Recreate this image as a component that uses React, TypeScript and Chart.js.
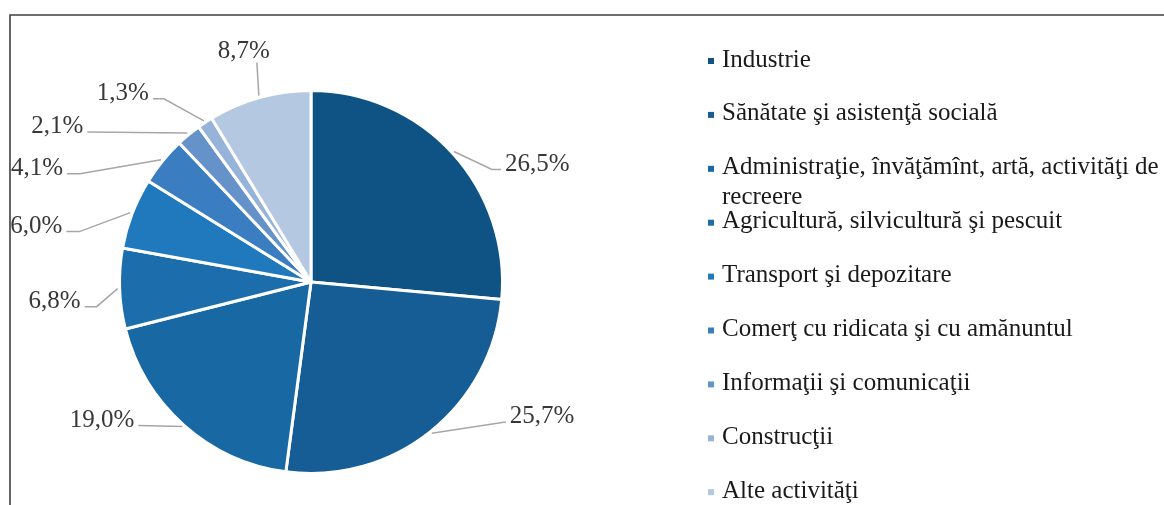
import React, { useEffect, useRef } from "react";
import { Chart, registerables } from "chart.js";

Chart.register(...registerables);

const categories: string[] = [
  "Industrie",
  "Sănătate şi asistenţă socială",
  "Administraţie, învăţămînt, artă, activităţi de recreere",
  "Agricultură, silvicultură şi pescuit",
  "Transport şi depozitare",
  "Comerţ cu ridicata şi cu amănuntul",
  "Informaţii şi comunicaţii",
  "Construcţii",
  "Alte activităţi",
];

const shares: number[] = [26.5, 25.7, 19.0, 6.8, 6.0, 4.1, 2.1, 1.3, 8.7];

const colors: string[] = [
  "#0f5384",
  "#155d94",
  "#1868a4",
  "#1b6eab",
  "#2079bd",
  "#3a7dc1",
  "#6592c9",
  "#96b3d9",
  "#b5c8e1",
];

// leader-line layout: elbow offset from slice edge, then horizontal tail
const labelLayout = [
  { dx: 38, dy: 18, tail: 9 },
  { dx: 72, dy: -11, tail: 2 },
  { dx: -44, dy: -1, tail: 0 },
  { dx: -21, dy: 18, tail: -12 },
  { dx: -51, dy: 19, tail: -13 },
  { dx: -81, dy: 14, tail: -13 },
  { dx: -100, dy: -1, tail: 0 },
  { dx: -40, dy: -22, tail: -11 },
  { dx: -2, dy: -33, tail: 0, above: true },
];

const FONT = '25px "Liberation Serif", "Times New Roman", serif';

const fmt = (v: number) => v.toFixed(1).replace(".", ",") + "%";

const decorPlugin = {
  id: "decor",
  afterDraw(chart: any) {
    const ctx = chart.ctx as CanvasRenderingContext2D;
    const meta = chart.getDatasetMeta(0);
    ctx.save();
    // frame
    ctx.strokeStyle = "#3f3f3f";
    ctx.lineWidth = 1.6;
    ctx.beginPath();
    ctx.moveTo(10, 505);
    ctx.lineTo(10, 15);
    ctx.lineTo(1164, 15);
    ctx.stroke();

    // data labels with leader lines
    ctx.font = FONT;
    meta.data.forEach((arc: any, i: number) => {
      const p = arc.getProps(["x", "y", "startAngle", "endAngle", "outerRadius"], true);
      const mid = (p.startAngle + p.endAngle) / 2;
      const sx = p.x + Math.cos(mid) * (p.outerRadius + 2);
      const sy = p.y + Math.sin(mid) * (p.outerRadius + 2);
      const L = labelLayout[i];
      const ex = sx + L.dx;
      const ey = sy + L.dy;
      const tx = ex + L.tail;
      ctx.strokeStyle = "#a6a6a6";
      ctx.lineWidth = 1.5;
      ctx.beginPath();
      ctx.moveTo(sx, sy);
      ctx.lineTo(ex, ey);
      ctx.lineTo(tx, ey);
      ctx.stroke();
      ctx.fillStyle = "#383838";
      const text = fmt(shares[i]);
      if ((L as any).above) {
        ctx.textAlign = "center";
        ctx.textBaseline = "alphabetic";
        ctx.fillText(text, ex - 13, ey - 5);
      } else if (tx >= p.x) {
        ctx.textAlign = "left";
        ctx.textBaseline = "alphabetic";
        ctx.fillText(text, tx + 4, ey + 1);
      } else {
        ctx.textAlign = "right";
        ctx.textBaseline = "alphabetic";
        ctx.fillText(text, tx - 4, ey + 1);
      }
    });

    // legend
    const markerX = 708;
    const textX = 722;
    const y0 = 60;
    const step = 53.9;
    const maxW = 445;
    ctx.font = FONT;
    ctx.textAlign = "left";
    ctx.textBaseline = "middle";
    categories.forEach((label, i) => {
      const y = y0 + i * step;
      ctx.fillStyle = colors[i];
      ctx.fillRect(markerX, y - 2, 6, 6);
      ctx.fillStyle = "#1a1a1a";
      const words = label.split(" ");
      const lines: string[] = [];
      let cur = "";
      words.forEach((w) => {
        const t = cur ? cur + " " + w : w;
        if (ctx.measureText(t).width > maxW && cur) {
          lines.push(cur);
          cur = w;
        } else {
          cur = t;
        }
      });
      lines.push(cur);
      lines.forEach((ln, k) => ctx.fillText(ln, textX, y + k * 30));
    });
    ctx.restore();
  },
};

export default function App() {
  const ref = useRef<HTMLCanvasElement>(null);
  useEffect(() => {
    if (!ref.current) return;
    const chart = new Chart(ref.current, {
      type: "pie",
      data: {
        labels: categories,
        datasets: [
          {
            data: shares,
            backgroundColor: colors,
            borderColor: "#ffffff",
            borderWidth: 3,
          },
        ],
      },
      options: {
        responsive: false,
        animation: false,
        layout: { padding: { left: 118, right: 660, top: 88, bottom: 29 } },
        plugins: {
          legend: { display: false },
          tooltip: { enabled: false },
          title: { display: false },
        },
      },
      plugins: [decorPlugin],
    });
    return () => chart.destroy();
  }, []);
  return (
    <div style={{ position: "absolute", left: 0, top: 0, width: 1164, height: 505, background: "#fff" }}>
      <canvas ref={ref} width={1164} height={505} style={{ display: "block" }} />
    </div>
  );
}
